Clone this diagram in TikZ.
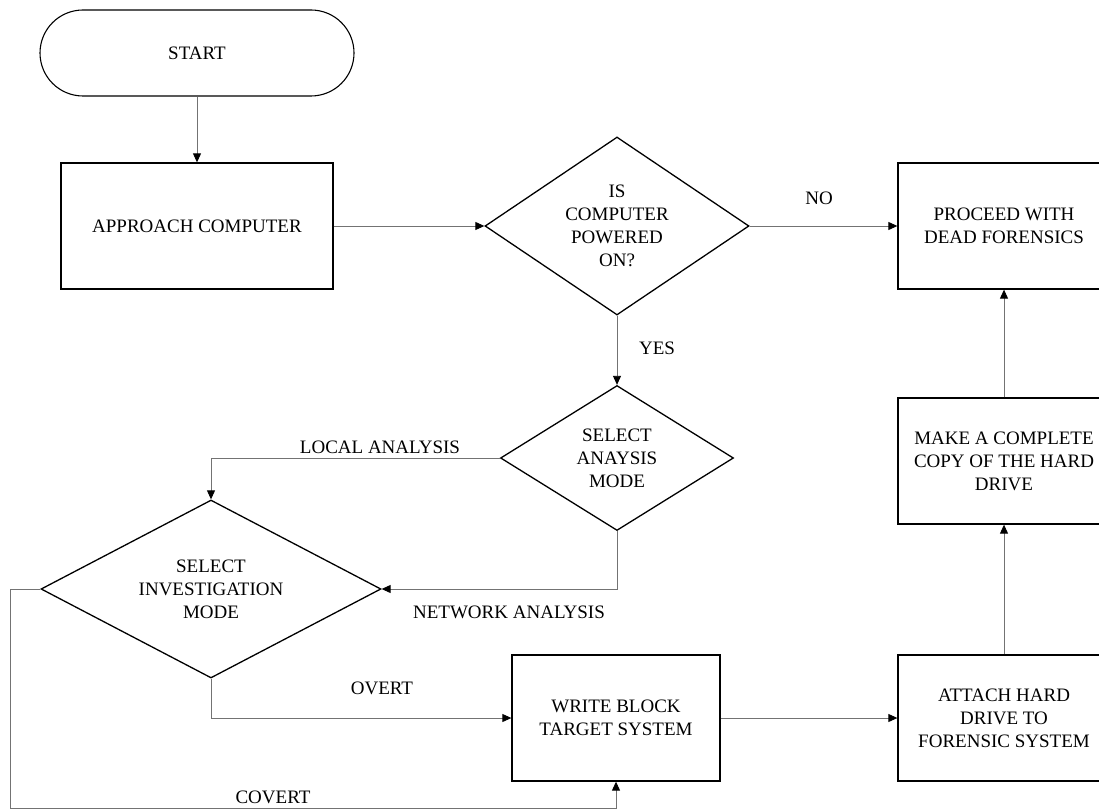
\documentclass[tikz,border=0pt]{standalone}
\usepackage{fontspec}
\setmainfont{Liberation Serif}
\usetikzlibrary{shapes.geometric,arrows.meta}

\tikzset{
  flowbox/.style={draw=black,line width=1.3pt,minimum width=212pt,minimum height=126pt,align=center,inner sep=0pt},
  terminal/.style={draw=black,line width=1.1pt,rounded corners=43pt,minimum width=314pt,minimum height=86pt,inner sep=0pt},
  decision/.style={draw=black,line width=1.3pt,diamond,align=center,inner sep=0pt},
  flowline/.style={draw=black!55,line width=0.9pt,-{Triangle[length=9pt,width=8pt,color=black]}},
  lbl/.style={inner sep=0pt}
}

\begin{document}
\begin{tikzpicture}[x=1pt,y=-1pt,font=\fontsize{19}{23}\selectfont]
\useasboundingbox (0,0) rectangle (1099,810);

\node[terminal] (start) at (197,53) {START};
\node[flowbox,minimum width=272pt] (approach) at (197,226) {APPROACH COMPUTER};
\node[decision,aspect=1.48,minimum width=264pt,minimum height=178pt] (power) at (617,226) {IS\\COMPUTER\\POWERED\\ON?};
\node[flowbox] (dead) at (1004,226) {PROCEED WITH\\DEAD FORENSICS};
\node[decision,aspect=1.6,minimum width=233pt,minimum height=145pt] (mode) at (617,458) {SELECT\\ANAYSIS\\MODE};
\node[decision,aspect=1.91,minimum width=340pt,minimum height=178pt] (invest) at (211,589) {SELECT\\INVESTIGATION\\MODE};
\node[flowbox,minimum width=208pt] (write) at (616,718) {WRITE BLOCK\\TARGET SYSTEM};
\node[flowbox] (attach) at (1004,718) {ATTACH HARD\\DRIVE TO\\FORENSIC SYSTEM};
\node[flowbox] (copy) at (1004,461) {MAKE A COMPLETE\\COPY OF THE HARD\\DRIVE};
\coordinate (covert) at (10,808);

\draw[flowline] (start) -- (approach);
\draw[flowline] (approach) -- (power);
\draw[flowline] (power) -- (dead);
\draw[flowline] (power) -- (mode);
\draw[flowline] (mode.west) -| (invest.north);
\draw[flowline] (mode.south) |- (invest.east);
\draw[flowline] (invest.south) |- (write.west);
\draw[flowline] (invest.west) -| (covert) -| (write.south);
\draw[flowline] (write) -- (attach);
\draw[flowline] (attach) -- (copy);
\draw[flowline] (copy) -- (dead);

\node[lbl] (no) at (819,198) {NO};
\node[lbl] (yes) at (657,348) {YES};
\node[lbl] (local) at (380,447) {LOCAL ANALYSIS};
\node[lbl] (network) at (509,612) {NETWORK ANALYSIS};
\node[lbl] (overt) at (382,688) {OVERT};
\node[lbl] (cov) at (273,797) {COVERT};
\end{tikzpicture}
\end{document}
